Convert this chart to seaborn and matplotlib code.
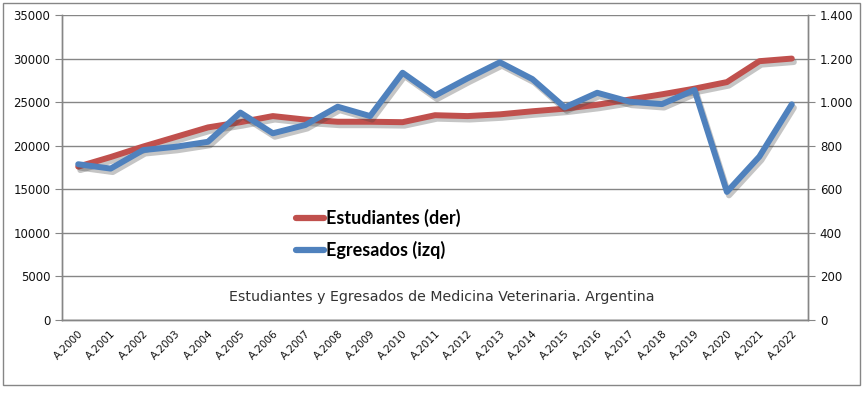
import matplotlib
matplotlib.use("Agg")
import matplotlib.pyplot as plt
import matplotlib.patheffects as pe
from matplotlib.ticker import FuncFormatter, MultipleLocator
import seaborn as sns
import pandas as pd

# data
years = ["A.%d" % y for y in range(2000, 2023)]
estudiantes = [17600, 18700, 19900, 21000, 22100, 22700, 23400, 23000, 22750, 22750,
               22700, 23500, 23400, 23600, 23950, 24250, 24700, 25300, 25900, 26550,
               27300, 29700, 30000]
egresados = [715, 695, 780, 795, 818, 952, 857, 895, 979, 936,
             1135, 1030, 1109, 1183, 1106, 976, 1043, 1002, 991, 1056,
             588, 750, 990]

df = pd.DataFrame({"pos": range(len(years)), "anio": years,
                   "Estudiantes": estudiantes, "Egresados": egresados})

sns.set_style("white")
plt.rcParams['font.family'] = ['DejaVu Sans']

RED = "#C0504D"
BLUE = "#4F81BD"
GRID = "#868686"

fig = plt.figure(figsize=(8.67, 3.94), dpi=100)
ax = fig.add_axes([62 / 867, 1 - 320 / 394, (808 - 62) / 867, (320 - 15) / 394])
ax2 = ax.twinx()

shadow = [pe.SimpleLineShadow(offset=(1.5, -2.5), shadow_color="#404040", alpha=0.3), pe.Normal()]

sns.lineplot(data=df, x="pos", y="Estudiantes", ax=ax, color=RED, linewidth=4.3,
             path_effects=shadow, solid_capstyle="round", solid_joinstyle="round")
sns.lineplot(data=df, x="pos", y="Egresados", ax=ax2, color=BLUE, linewidth=4.3,
             path_effects=shadow, solid_capstyle="round", solid_joinstyle="round")

ax.set_xlim(-0.5, len(years) - 0.5)
ax.set_ylim(0, 35000)
ax2.set_ylim(0, 1400)
ax.yaxis.set_major_locator(MultipleLocator(5000))
ax2.yaxis.set_major_locator(MultipleLocator(200))
ax2.yaxis.set_major_formatter(FuncFormatter(lambda v, p: f"{int(v):,}".replace(",", ".")))

ax.grid(axis="y", color=GRID, linewidth=1)
ax.set_axisbelow(True)
ax.set_xlabel("")
ax.set_ylabel("")
ax2.set_ylabel("")

# category ticks between categories, labels at centres
ax.set_xticks([i - 0.5 for i in range(len(years) + 1)])
ax.set_xticklabels([])
ax.set_xticks(range(len(years)), minor=True)
ax.set_xticklabels(years, minor=True, rotation=45, ha="right", rotation_mode="anchor",
                   fontsize=7.5, color="#111111")
ax.tick_params(axis="x", which="major", direction="out", length=5, color=GRID, width=1)
ax.tick_params(axis="x", which="minor", length=0, pad=6)
ax.tick_params(axis="y", direction="out", length=5, color=GRID, labelsize=8.5, labelcolor="#111111")
ax2.tick_params(axis="y", direction="out", length=5, color=GRID, labelsize=8.5, labelcolor="#111111")

for a in (ax, ax2):
    a.spines["top"].set_visible(False)
    for s in ("left", "right", "bottom"):
        a.spines[s].set_color(GRID)
        a.spines[s].set_linewidth(1)

handles = [plt.Line2D([0], [0], color=RED, linewidth=4.5, solid_capstyle="round"),
           plt.Line2D([0], [0], color=BLUE, linewidth=4.5, solid_capstyle="round")]
leg = fig.legend(handles, ["Estudiantes (der)", "Egresados (izq)"], loc="center left",
                 bbox_to_anchor=(280 / 867, 1 - 234 / 394), frameon=False,
                 prop={"family": "Lato", "weight": "bold", "size": 13},
                 handlelength=1.55, handletextpad=0.1, labelspacing=0.75)
for t in leg.get_texts():
    t.set_color("black")

fig.text(442 / 867, 1 - 297 / 394, "Estudiantes y Egresados de Medicina Veterinaria. Argentina",
         ha="center", va="center", fontsize=10.2, color="#333333")

fig.add_artist(plt.Rectangle((3 / 867, 1 - 385 / 394), 857 / 867, 382 / 394,
                             fill=False, edgecolor="#868686", linewidth=1,
                             transform=fig.transFigure))

fig.savefig("out.png", dpi=100)
